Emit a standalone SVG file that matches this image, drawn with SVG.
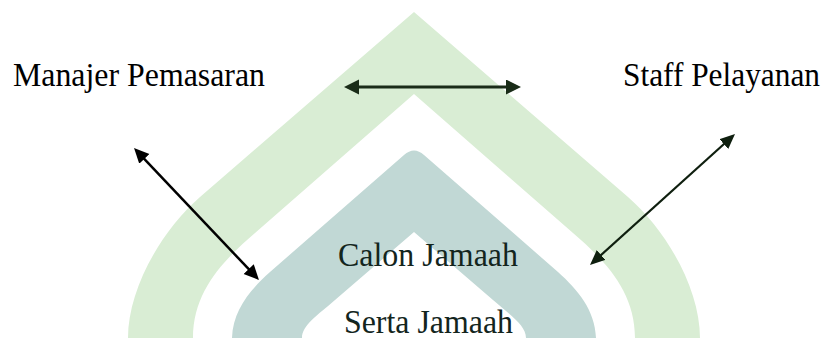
<svg xmlns="http://www.w3.org/2000/svg" width="828" height="338" viewBox="0 0 828 338">
  <style>
    .lbl { font-family: "Liberation Serif", "Times New Roman", serif; font-size: 33px; }
    .top { fill: #000000; }
    .mid { fill: #13251d; }
    .conn { fill: none; }
  </style>
  <defs>
    <marker id="headH" markerUnits="userSpaceOnUse" markerWidth="16" markerHeight="16" refX="5" refY="7.5" orient="auto-start-reverse">
      <path d="M0,0 L15,7.5 L0,15 Z" fill="#1a2c18"/>
    </marker>
    <marker id="headL" markerUnits="userSpaceOnUse" markerWidth="16" markerHeight="16" refX="5" refY="7" orient="auto-start-reverse">
      <path d="M0,0 L15,7 L0,14 Z" fill="#000000"/>
    </marker>
    <marker id="headR" markerUnits="userSpaceOnUse" markerWidth="16" markerHeight="16" refX="5" refY="6.5" orient="auto-start-reverse">
      <path d="M0,0 L15,6.5 L0,13 Z" fill="#0f1f0f"/>
    </marker>
  </defs>
  <rect width="828" height="338" fill="#ffffff"/>
  <g id="watermark">
    <path d="M128,338 C128,290 160,232 200,197 L414,12 L628,197 C668,232 700,290 700,338 L635,338 C635,290 603,259 573,233 L414,94 L255,233 C225,259 193,290 193,338 Z" fill="#d9edd4"/>
    <path d="M232,338 C233,310 250,290 270,272 L404,155 Q414,146 424,155 L558,272 C578,290 595,310 596,338 L526,338 C526,325 510,315 493,300 L414,232 L335,300 C318,315 302,325 302,338 Z" fill="#c1d8d5"/>
  </g>
  <g id="connectors">
    <line class="conn" x1="354" y1="87" x2="511" y2="87" stroke="#1a2c18" stroke-width="3" marker-start="url(#headH)" marker-end="url(#headH)"/>
    <line class="conn" x1="140.9" y1="155.3" x2="252.1" y2="272.7" stroke="#000000" stroke-width="2.5" marker-start="url(#headL)" marker-end="url(#headL)"/>
    <line class="conn" x1="727.6" y1="140.7" x2="597.4" y2="258.3" stroke="#0f1f0f" stroke-width="2.2" marker-start="url(#headR)" marker-end="url(#headR)"/>
  </g>
  <g id="node-manajer">
    <text class="lbl top" x="13" y="85.5" textLength="252" lengthAdjust="spacingAndGlyphs">Manajer Pemasaran</text>
  </g>
  <g id="node-staff">
    <text class="lbl top" x="623" y="85.5" textLength="197" lengthAdjust="spacingAndGlyphs">Staff Pelayanan</text>
  </g>
  <g id="node-calon">
    <text class="lbl mid" x="338" y="265.5" textLength="180" lengthAdjust="spacingAndGlyphs">Calon Jamaah</text>
  </g>
  <g id="node-serta">
    <text class="lbl mid" x="344" y="333" textLength="169" lengthAdjust="spacingAndGlyphs">Serta Jamaah</text>
  </g>
</svg>
